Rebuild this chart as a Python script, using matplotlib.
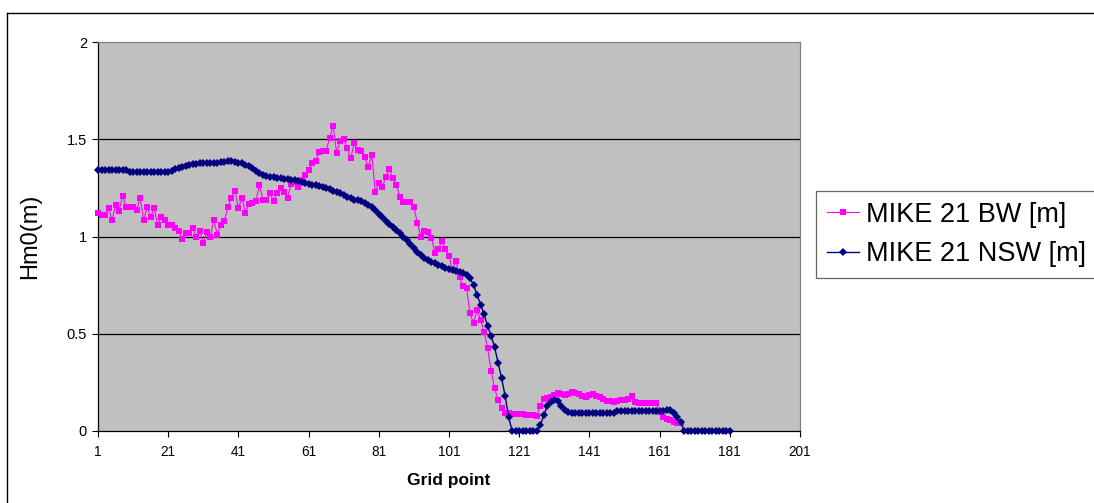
import numpy as np
import matplotlib
matplotlib.use("Agg")
import matplotlib.pyplot as plt
from matplotlib.lines import Line2D

plt.rcParams['font.family'] = ['Liberation Sans', 'DejaVu Sans']

# MIKE 21 BW significant wave height, grid points 1..167
bw = [1.12, 1.11, 1.11, 1.145, 1.085, 1.16, 1.133, 1.208, 1.153, 1.153,
      1.15, 1.136, 1.20, 1.085, 1.15, 1.10, 1.145, 1.061, 1.10, 1.085,
      1.059, 1.059, 1.042, 1.03, 0.989, 1.016, 1.016, 1.042, 0.999, 1.03,
      0.965, 1.025, 0.996, 1.085, 1.01, 1.059, 1.081, 1.15, 1.20, 1.236,
      1.145, 1.20, 1.122, 1.167, 1.174, 1.183, 1.265, 1.19, 1.19, 1.222,
      1.184, 1.225, 1.248, 1.23, 1.20, 1.27, 1.282, 1.256, 1.29, 1.314,
      1.342, 1.38, 1.387, 1.436, 1.44, 1.44, 1.508, 1.568, 1.431, 1.493,
      1.501, 1.453, 1.402, 1.479, 1.445, 1.44, 1.407, 1.359, 1.419, 1.23,
      1.273, 1.253, 1.308, 1.347, 1.299, 1.265, 1.205, 1.179, 1.175, 1.175,
      1.15, 1.068, 0.999, 1.03, 1.025, 0.99, 0.917, 0.934, 0.977, 0.934,
      0.90, 0.828, 0.876, 0.79, 0.745, 0.734, 0.605, 0.554, 0.622, 0.57,
      0.51, 0.425, 0.31, 0.219, 0.159, 0.117, 0.094, 0.09, 0.088, 0.087,
      0.086, 0.085, 0.083, 0.082, 0.080, 0.078, 0.13, 0.163, 0.17, 0.175,
      0.185, 0.194, 0.19, 0.185, 0.19, 0.20, 0.195, 0.188, 0.18, 0.176,
      0.186, 0.19, 0.18, 0.176, 0.165, 0.156, 0.152, 0.151, 0.155, 0.159,
      0.159, 0.165, 0.18, 0.147, 0.146, 0.145, 0.145, 0.145, 0.143, 0.142,
      0.10, 0.074, 0.06, 0.055, 0.048, 0.042, 0.039]

# MIKE 21 NSW significant wave height, grid points 1..181
nsw = [1.34, 1.34, 1.34, 1.34, 1.34, 1.34, 1.34, 1.34, 1.34, 1.33,
       1.33, 1.33, 1.33, 1.33, 1.33, 1.33, 1.33, 1.33, 1.33, 1.33,
       1.33, 1.335, 1.345, 1.35, 1.355, 1.36, 1.368, 1.372, 1.375, 1.377,
       1.378, 1.378, 1.378, 1.378, 1.38, 1.382, 1.385, 1.388, 1.386, 1.382,
       1.38, 1.376, 1.37, 1.362, 1.35, 1.338, 1.327, 1.318, 1.312, 1.308,
       1.304, 1.302, 1.30, 1.297, 1.295, 1.292, 1.288, 1.284, 1.28, 1.275,
       1.271, 1.267, 1.263, 1.258, 1.253, 1.247, 1.242, 1.236, 1.229, 1.222,
       1.212, 1.203, 1.196, 1.19, 1.186, 1.181, 1.172, 1.162, 1.15, 1.135,
       1.118, 1.10, 1.082, 1.066, 1.05, 1.035, 1.02, 1.0, 0.98, 0.96,
       0.94, 0.92, 0.905, 0.89, 0.88, 0.87, 0.862, 0.855, 0.848, 0.84,
       0.834, 0.828, 0.822, 0.816, 0.81, 0.80, 0.785, 0.75, 0.70, 0.65,
       0.60, 0.54, 0.49, 0.43, 0.35, 0.27, 0.18, 0.07, 0.0, 0.0,
       0.0, 0.0, 0.0, 0.0, 0.0, 0.0, 0.03, 0.08, 0.13, 0.15,
       0.16, 0.155, 0.13, 0.11, 0.10, 0.095, 0.095, 0.095, 0.095, 0.095,
       0.095, 0.095, 0.095, 0.095, 0.095, 0.095, 0.095, 0.095, 0.105, 0.105,
       0.105, 0.105, 0.105, 0.105, 0.105, 0.105, 0.105, 0.105, 0.105, 0.105,
       0.105, 0.105, 0.11, 0.11, 0.09, 0.07, 0.045, 0.0, 0.0, 0.0,
       0.0, 0.0, 0.0, 0.0, 0.0, 0.0, 0.0, 0.0, 0.0, 0.0,
       0.0]

xticks = [1, 21, 41, 61, 81, 101, 121, 141, 161, 181, 201]
yticks = [0, 0.5, 1, 1.5, 2]

W, H = 1094, 503
fig = plt.figure(figsize=(W / 100, H / 100), dpi=100)
ax = fig.add_axes([98 / W, 1 - 431 / H, 702 / W, 389 / H])
ax.set_facecolor('#C0C0C0')

x_bw = np.arange(1, len(bw) + 1)
x_nsw = np.arange(1, len(nsw) + 1)
ax.plot(x_bw, bw, color='#FF00FF', lw=0.8, marker='s', ms=4.8,
        mew=0, label='MIKE 21 BW [m]', clip_on=False, zorder=3)
ax.plot(x_nsw, nsw, color='#000080', lw=1.0, marker='D', ms=4.3,
        mew=0, label='MIKE 21 NSW [m]', clip_on=False, zorder=4)

ax.set_xlim(1, 201)
ax.set_ylim(0, 2)
ax.set_xticks(xticks)
ax.set_xticklabels([str(t) for t in xticks], fontsize=9.8)
ax.set_yticks(yticks)
ax.set_yticklabels(['0', '0.5', '1', '1.5', '2'], fontsize=10.5)
ax.tick_params(axis='both', direction='out', length=4, width=0.8, color='black')
ax.tick_params(axis='y', pad=4)
ax.tick_params(axis='x', pad=6)

for y in [0.5, 1, 1.5]:
    ax.axhline(y, color='black', lw=0.9, zorder=1)

ax.spines['left'].set_color('black')
ax.spines['bottom'].set_color('black')
ax.spines['top'].set_color('#808080')
ax.spines['right'].set_color('#808080')
for s in ax.spines.values():
    s.set_linewidth(0.9)

ax.set_xlabel('Grid point', fontsize=12.5, fontweight='bold', labelpad=10)
ax.set_ylabel('Hm0(m)', fontsize=17)
ax.yaxis.set_label_coords(-(98 - 41) / 702, 0.5)

# legend box runs off the right edge of the picture
leg = fig.legend(loc='upper left',
                 bbox_to_anchor=(816 / W, 1 - 272 / H, (1110 - 816) / W, 81 / H),
                 mode='expand', fontsize=19.5, frameon=True, fancybox=False,
                 edgecolor='#404040', borderpad=0.4, labelspacing=0.5,
                 handlelength=1.2, handletextpad=0.25, borderaxespad=0)
leg.get_frame().set_linewidth(0.9)

# outer chart border (cut off at right and bottom)
fig.add_artist(Line2D([7 / W, 7 / W], [0, 1 - 13 / H], color='black', lw=1))
fig.add_artist(Line2D([7 / W, 1], [1 - 13 / H, 1 - 13 / H], color='black', lw=1))

fig.savefig('out.png', dpi=100)
